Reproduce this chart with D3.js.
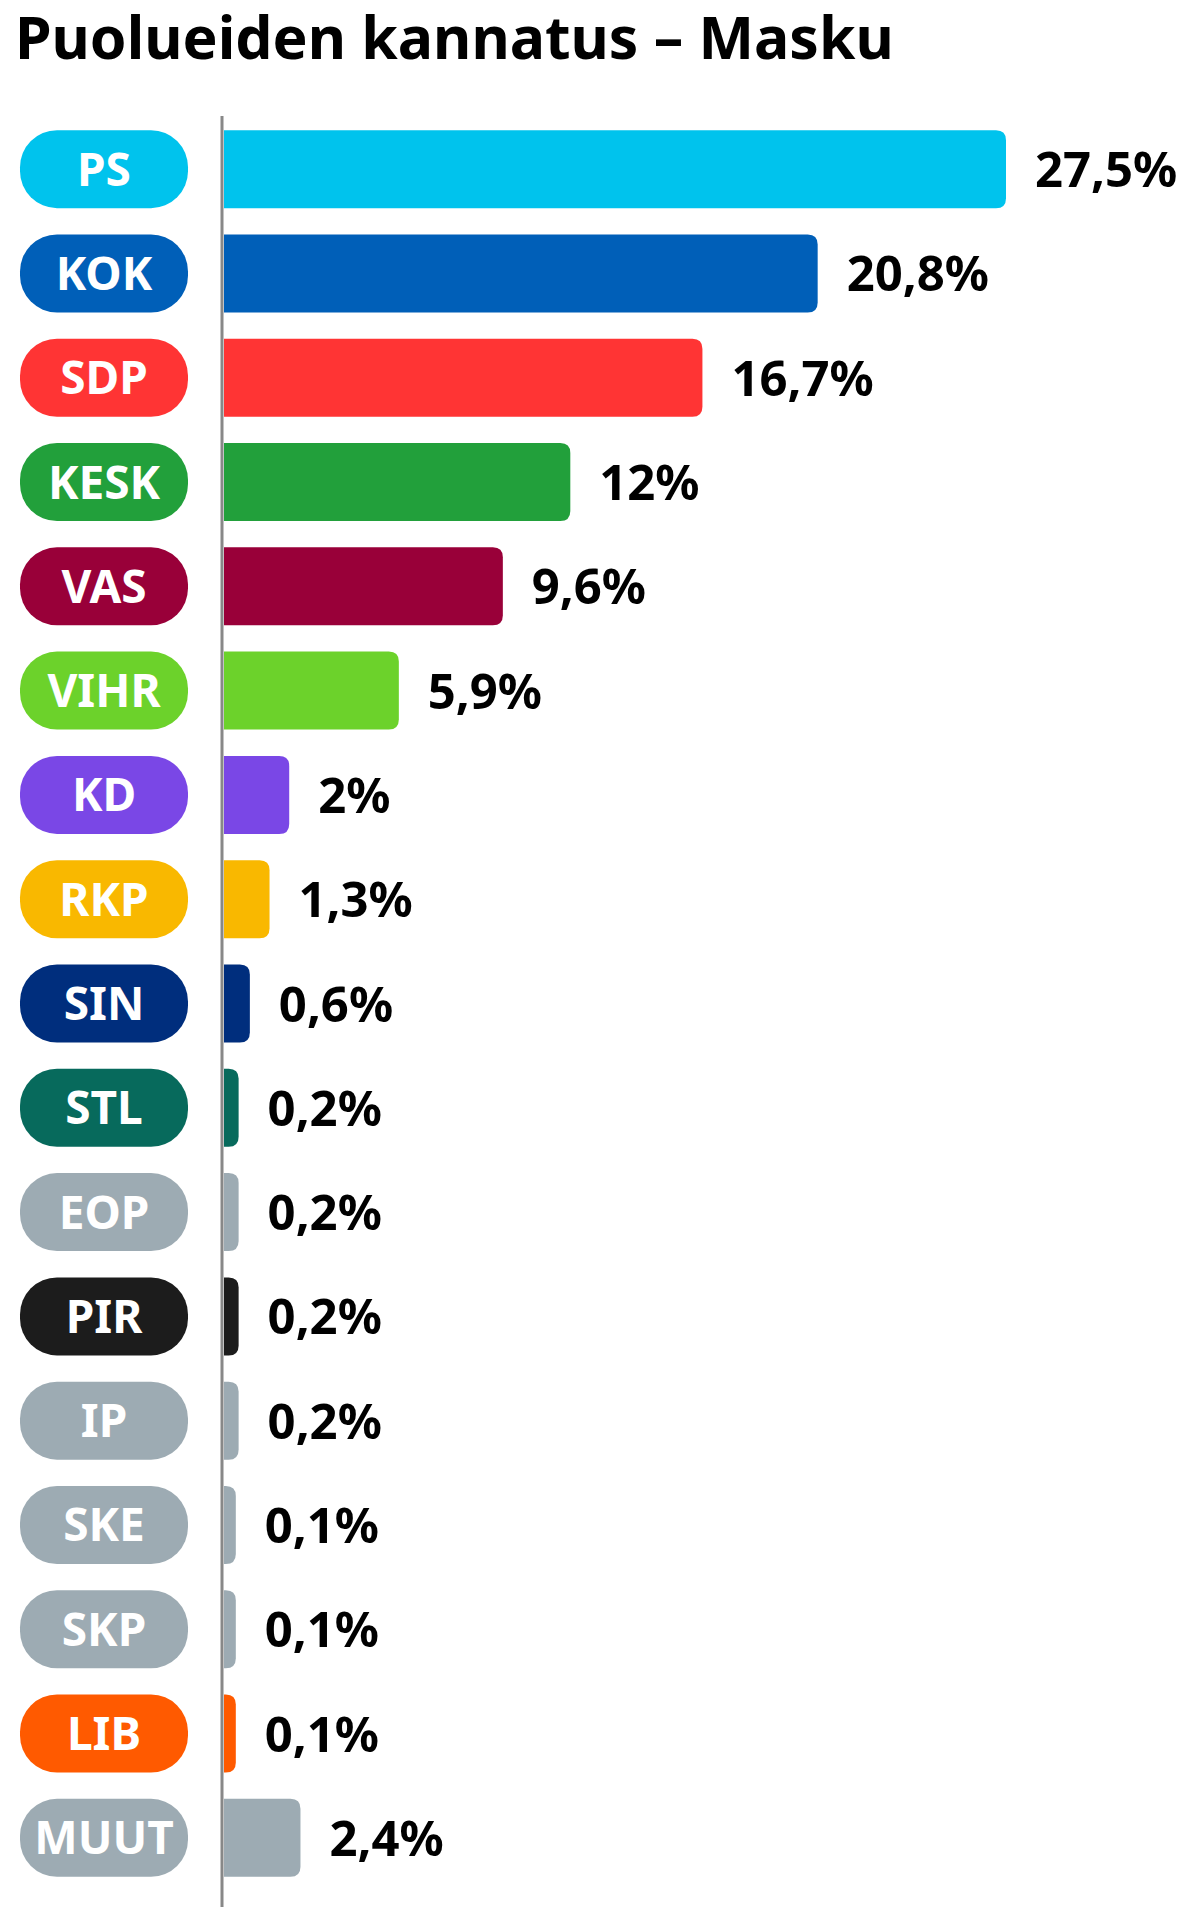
<!DOCTYPE html>
<html>
<head>
<meta charset="utf-8">
<script src="https://cdn.jsdelivr.net/npm/d3@7"></script>
<style>
  body { margin: 0; background: #fff; }
  text { font-family: "Noto Sans", "Open Sans", sans-serif; font-weight: 700; }
</style>
</head>
<body>
<div class="graph"></div>
<script>
let w = 1199;
let h = 1930;

// data
let parties = ["PS", "KOK", "SDP", "KESK", "VAS", "VIHR", "KD", "RKP", "SIN", "STL", "EOP", "PIR", "IP", "SKE", "SKP", "LIB", "MUUT"];
let shares = [27.5, 20.8, 16.7, 12, 9.6, 5.9, 2, 1.3, 0.6, 0.2, 0.2, 0.2, 0.2, 0.1, 0.1, 0.1, 2.4];
let colors = ["#00c3ed", "#005fb8", "#ff3434", "#22a03b", "#990039", "#6cd22b", "#7a47e6", "#f9b800",
  "#002e7d", "#076a5c", "#9dabb3", "#1c1c1c", "#9dabb3", "#9dabb3", "#9dabb3", "#ff5a00", "#9dabb3"];
let title = "Puolueiden kannatus \u2013 Masku";

let dataset = parties.map(function (p, i) {
  return { party: p, share: shares[i], color: colors[i] };
});

let svgvar = d3
  .select(".graph")
  .append("svg")
  .attr("width", w)
  .attr("height", h);

let titleText = svgvar
  .append("text")
  .attr("x", 15)
  .attr("y", 59)
  .attr("font-size", 56)
  .attr("fill", "#000")
  .text(title);
// fit the title to the width it has in the picture
let tl = titleText.node().getComputedTextLength();
titleText.attr("font-size", 56 * 879 / tl);

let xScale = d3.scaleLinear().domain([0, 27.5]).range([233, 1006]);
let yScale = d3
  .scaleBand()
  .domain(parties)
  .range([117, 1890])
  .paddingInner(0.252)
  .paddingOuter(0.126);

let bh = yScale.bandwidth();
let x0 = 224;
let r = 10;

function barPath(d) {
  let y0 = yScale(d.party);
  let x1 = xScale(d.share);
  return "M" + x0 + "," + y0 +
    "H" + (x1 - r) +
    "Q" + x1 + "," + y0 + " " + x1 + "," + (y0 + r) +
    "V" + (y0 + bh - r) +
    "Q" + x1 + "," + (y0 + bh) + " " + (x1 - r) + "," + (y0 + bh) +
    "H" + x0 + "Z";
}

svgvar
  .selectAll(".bar")
  .data(dataset)
  .enter()
  .append("path")
  .attr("class", "bar")
  .attr("d", barPath)
  .attr("fill", (d) => d.color);

svgvar
  .selectAll(".pill")
  .data(dataset)
  .enter()
  .append("rect")
  .attr("class", "pill")
  .attr("x", 20)
  .attr("y", (d) => yScale(d.party))
  .attr("width", 168)
  .attr("height", bh)
  .attr("rx", 37)
  .attr("ry", 37)
  .attr("fill", (d) => d.color);

svgvar
  .selectAll(".pilltext")
  .data(dataset)
  .enter()
  .append("text")
  .attr("class", "pilltext")
  .attr("x", 104)
  .attr("y", (d) => yScale(d.party) + bh / 2 + 16.5)
  .attr("text-anchor", "middle")
  .attr("font-size", 46)
  .attr("fill", "#fff")
  .text((d) => d.party);

svgvar
  .selectAll(".value")
  .data(dataset)
  .enter()
  .append("text")
  .attr("class", "value")
  .attr("x", (d) => xScale(d.share) + 29)
  .attr("y", (d) => yScale(d.party) + bh / 2 + 18)
  .attr("font-size", 49)
  .attr("fill", "#000")
  .text((d) => String(d.share).replace(".", ",") + "%");

svgvar
  .append("line")
  .attr("x1", 222)
  .attr("x2", 222)
  .attr("y1", 116)
  .attr("y2", 1907)
  .attr("stroke", "#888")
  .attr("stroke-width", 3);
</script>
</body>
</html>
